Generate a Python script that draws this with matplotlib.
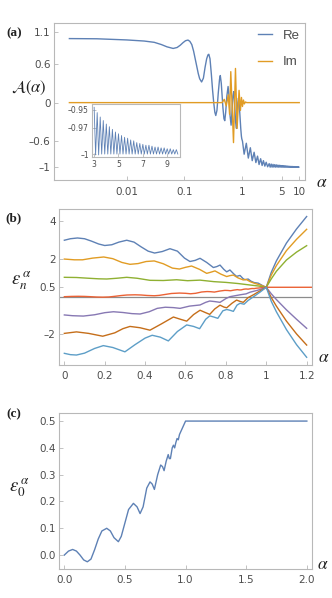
import matplotlib
matplotlib.use("Agg")
from matplotlib import pyplot as plt

# ---------- panel (a): A(alpha) on a log alpha axis ----------
re_alpha = [0.001, 0.003, 0.01, 0.02, 0.03, 0.04, 0.05, 0.064, 0.075, 0.085,
            0.095, 0.105, 0.116, 0.125, 0.135, 0.145, 0.155, 0.165, 0.175, 0.185,
            0.2, 0.215, 0.23, 0.245, 0.258, 0.267, 0.28, 0.295, 0.31, 0.325,
            0.34, 0.353, 0.37, 0.39, 0.41, 0.423, 0.44, 0.47, 0.49, 0.506,
            0.525, 0.55, 0.578, 0.6, 0.625, 0.652, 0.675, 0.7, 0.726, 0.75,
            0.78, 0.809, 0.83, 0.855, 0.877, 0.9, 0.93, 0.96, 0.985, 1.0]
re_vals = [0.993, 0.99, 0.972, 0.955, 0.935, 0.9, 0.865, 0.84, 0.855, 0.89,
           0.93, 0.96, 0.97, 0.95, 0.9, 0.8, 0.68, 0.56, 0.45, 0.37,
           0.32, 0.38, 0.55, 0.68, 0.74, 0.75, 0.68, 0.45, 0.2, 0.0,
           -0.15, -0.2, -0.12, 0.15, 0.36, 0.42, 0.3, -0.08, -0.25, -0.28,
           -0.15, 0.1, 0.25, 0.1, -0.2, -0.35, -0.15, 0.1, 0.17, 0.0,
           -0.3, -0.4, -0.2, 0.0, 0.07, 0.0, -0.2, -0.4, -0.52, -0.56]
re_tail_alpha = [1.03, 1.1, 1.2, 1.3, 1.41, 1.52, 1.64, 1.76, 1.88, 2.0,
                 2.13, 2.26, 2.38, 2.52, 2.66, 2.82]
re_tail = [-0.6, -0.8, -0.63, -0.86, -0.7, -0.9, -0.77, -0.93, -0.83, -0.96,
           -0.87, -0.975, -0.9, -0.985, -0.925, -0.995]

# inset: Re A for alpha in [3, 10]
inset_alpha = [3.0, 3.12, 3.25, 3.37, 3.5, 3.62, 3.75, 3.87, 4.0, 4.12,
               4.25, 4.37, 4.5, 4.62, 4.75, 4.87, 5.0, 5.12, 5.25, 5.37,
               5.5, 5.62, 5.75, 5.87, 6.0, 6.12, 6.25, 6.37, 6.5, 6.62,
               6.75, 6.87, 7.0, 7.12, 7.25, 7.37, 7.5, 7.62, 7.75, 7.87,
               8.0, 8.12, 8.25, 8.37, 8.5, 8.62, 8.75, 8.87, 9.0, 9.12,
               9.25, 9.37, 9.5, 9.62, 9.75, 9.87]
inset_re = [-0.947, -1.001, -0.953, -1.001, -0.958, -1.0, -0.962, -1.0, -0.966, -1.0,
            -0.969, -1.0, -0.972, -1.0, -0.975, -1.0, -0.977, -1.0, -0.979, -1.0,
            -0.981, -1.0, -0.982, -1.0, -0.984, -1.0, -0.985, -1.0, -0.987, -1.0,
            -0.988, -1.0, -0.989, -1.0, -0.990, -1.0, -0.990, -1.0, -0.991, -1.0,
            -0.992, -1.0, -0.992, -1.0, -0.993, -1.0, -0.993, -1.0, -0.994, -1.0,
            -0.994, -1.0, -0.995, -1.0, -0.995, -1.0]

im_alpha = [0.001, 0.454, 0.496, 0.537, 0.582, 0.614, 0.644, 0.718, 0.777, 0.829,
            0.897, 0.948, 0.988, 1.028, 1.07, 1.11, 1.16, 1.22, 10.0]
im_vals = [0, 0, 0.05, -0.05, 0.12, -0.18, 0.48, -0.62, 0.53, -0.4,
           0.19, -0.12, 0.08, -0.06, 0.04, -0.02, 0.01, 0, 0]

# ---------- panel (b): eps_n(alpha), n = 3 ... -3 ----------
eps3_alpha = [0, 0.03, 0.065, 0.1, 0.135, 0.17, 0.2, 0.235, 0.27, 0.309,
              0.345, 0.38, 0.415, 0.447, 0.485, 0.523, 0.56, 0.595, 0.622, 0.648,
              0.672, 0.705, 0.738, 0.755, 0.771, 0.79, 0.804, 0.82, 0.84, 0.853,
              0.87, 0.885, 0.895, 0.91, 0.925, 0.94, 0.96, 0.98, 1.0, 1.025,
              1.05, 1.1, 1.15, 1.2]
eps3 = [3.0, 3.08, 3.12, 3.08, 2.95, 2.8, 2.72, 2.76, 2.9, 3.0,
        2.9, 2.65, 2.42, 2.32, 2.4, 2.55, 2.42, 2.05, 1.87, 1.93,
        2.04, 1.82, 1.55, 1.6, 1.68, 1.45, 1.32, 1.42, 1.2, 1.08,
        1.13, 0.96, 0.9, 0.94, 0.82, 0.75, 0.72, 0.6, 0.5, 1.3,
        1.9, 2.85, 3.6, 4.26]

eps2_alpha = [0, 0.05, 0.09, 0.14, 0.195, 0.24, 0.285, 0.325, 0.365, 0.405,
              0.445, 0.49, 0.535, 0.57, 0.6, 0.63, 0.67, 0.705, 0.725, 0.746,
              0.775, 0.804, 0.82, 0.837, 0.86, 0.886, 0.9, 0.92, 0.94, 0.97,
              1.0, 1.025, 1.05, 1.1, 1.15, 1.2]
eps2 = [2.0, 1.96, 1.96, 2.05, 2.11, 2.02, 1.82, 1.72, 1.76, 1.87,
        1.9, 1.75, 1.52, 1.47, 1.56, 1.63, 1.45, 1.24, 1.3, 1.37,
        1.2, 1.07, 1.12, 1.15, 1.0, 0.89, 0.92, 0.8, 0.72, 0.62,
        0.5, 1.15, 1.65, 2.45, 3.05, 3.58]

eps1_alpha = [0, 0.06, 0.12, 0.17, 0.21, 0.26, 0.309, 0.36, 0.424, 0.49,
              0.556, 0.61, 0.672, 0.74, 0.8, 0.86, 0.92, 0.96, 1.0, 1.025,
              1.05, 1.1, 1.15, 1.2]
eps1 = [1.03, 1.02, 0.98, 0.95, 0.94, 0.98, 1.03, 0.98, 0.87, 0.86,
        0.9, 0.85, 0.88, 0.8, 0.76, 0.7, 0.62, 0.57, 0.5, 0.95,
        1.35, 1.95, 2.37, 2.71]

epsm1_alpha = [0, 0.04, 0.094, 0.15, 0.2, 0.243, 0.29, 0.335, 0.375, 0.42,
               0.46, 0.5, 0.54, 0.573, 0.62, 0.672, 0.7, 0.72, 0.745, 0.771,
               0.8, 0.82, 0.845, 0.87, 0.9, 0.92, 0.96, 1.0, 1.025, 1.05,
               1.1, 1.15, 1.2]
epsm1 = [-0.97, -1.01, -1.03, -0.96, -0.85, -0.8, -0.84, -0.9, -0.92, -0.8,
         -0.62, -0.56, -0.58, -0.62, -0.5, -0.44, -0.3, -0.23, -0.26, -0.3,
         -0.1, 0.0, 0.05, 0.1, 0.15, 0.24, 0.35, 0.5, 0.15, -0.15,
         -0.7, -1.2, -1.68]

epsm2_alpha = [0, 0.06, 0.12, 0.19, 0.25, 0.29, 0.325, 0.375, 0.424, 0.48,
               0.54, 0.575, 0.606, 0.64, 0.672, 0.7, 0.72, 0.745, 0.771, 0.79,
               0.804, 0.83, 0.853, 0.87, 0.886, 0.91, 0.936, 0.96, 1.0, 1.025,
               1.05, 1.1, 1.15, 1.2]
epsm2 = [-1.95, -1.87, -1.95, -2.1, -1.92, -1.7, -1.58, -1.65, -1.78, -1.45,
         -1.08, -1.2, -1.3, -0.95, -0.72, -0.85, -0.94, -0.65, -0.45, -0.55,
         -0.59, -0.35, -0.18, -0.25, -0.3, -0.05, 0.1, 0.25, 0.5, -0.05,
         -0.5, -1.3, -1.98, -2.57]

epsm3_alpha = [0, 0.03, 0.06, 0.1, 0.15, 0.193, 0.24, 0.3, 0.35, 0.4,
               0.435, 0.475, 0.515, 0.56, 0.606, 0.64, 0.67, 0.7, 0.72, 0.74,
               0.76, 0.785, 0.804, 0.82, 0.837, 0.855, 0.87, 0.89, 0.91, 0.94,
               0.97, 1.0, 1.025, 1.05, 1.1, 1.15, 1.2]
epsm3 = [-3.01, -3.08, -3.1, -3.0, -2.75, -2.6, -2.7, -2.93, -2.55, -2.2,
         -2.05, -2.15, -2.35, -1.85, -1.5, -1.58, -1.7, -1.2, -1.02, -1.08,
         -1.15, -0.75, -0.68, -0.72, -0.78, -0.45, -0.35, -0.4, -0.2, 0.02,
         0.25, 0.5, -0.25, -0.8, -1.75, -2.55, -3.22]

# ---------- panel (c): eps_0(alpha) (also the n = 0 curve of (b)) ----------
c_alpha = [0, 0.035, 0.069, 0.1, 0.13, 0.16, 0.19, 0.22, 0.25, 0.28,
           0.31, 0.35, 0.38, 0.41, 0.446, 0.47, 0.5, 0.53, 0.57, 0.6,
           0.625, 0.65, 0.68, 0.707, 0.725, 0.743, 0.77, 0.795, 0.81, 0.823,
           0.84, 0.857, 0.866, 0.875, 0.89, 0.9, 0.91, 0.92, 0.93, 0.94,
           0.95, 0.97, 1.0, 2.0]
c_eps0 = [0.0, 0.015, 0.021, 0.015, 0.0, -0.018, -0.025, -0.015, 0.02, 0.06,
          0.09, 0.1, 0.09, 0.065, 0.05, 0.07, 0.12, 0.17, 0.193, 0.18,
          0.155, 0.18, 0.25, 0.273, 0.265, 0.245, 0.3, 0.336, 0.33, 0.315,
          0.35, 0.375, 0.36, 0.36, 0.4, 0.41, 0.4, 0.42, 0.435, 0.43,
          0.45, 0.47, 0.5, 0.5]

BLUE, ORANGE, GREEN, RED = "#5E81B5", "#E19C24", "#8FB032", "#EB6235"
PURPLE, DKORANGE, LTBLUE = "#8778B3", "#C56E1A", "#5D9EC7"
FRAME = "#b8b8b8"
TXT = "#4d4d4d"
MINUS = "\u2013"
LW = 1.0

plt.rcParams["font.family"] = ["DejaVu Sans"]
plt.rcParams["mathtext.fontset"] = "stix"

W, H = 332, 598
fig = plt.figure(figsize=(W / 100, H / 100), dpi=100)


def box(l, t, r, b):
    return [l / W, 1 - b / H, (r - l) / W, (b - t) / H]


def style(ax, size=7.5, padx=4.5, pady=2.5):
    for s in ax.spines.values():
        s.set_color(FRAME)
        s.set_linewidth(0.8)
    ax.tick_params(direction="in", length=3, width=0.6, color=FRAME,
                   labelcolor=TXT, labelsize=size)
    ax.tick_params(axis="x", pad=padx)
    ax.tick_params(axis="y", pad=pady)
    ax.minorticks_off()


def panel_label(y, s):
    fig.text(14 / W, 1 - y / H, s, family="Liberation Serif", weight="bold",
             fontsize=9.5, ha="center", va="center", color="#222222")


def alpha_label(x, y):
    fig.text(x / W, 1 - y / H, r"$\alpha$", fontsize=12.5, ha="center",
             va="center", color="#222222")


# (a)
ax_a = fig.add_axes(box(54, 23.3, 305, 180))
ax_a.plot(re_alpha + re_tail_alpha + inset_alpha, re_vals + re_tail + inset_re,
          color=BLUE, lw=LW, label="Re")
ax_a.plot(im_alpha, im_vals, color=ORANGE, lw=LW, label="Im")
ax_a.set_xscale("log")
ax_a.set_xlim(0.00054, 12.6)
ax_a.set_ylim(-1.2, 1.23)
ax_a.set_xticks([0.01, 0.1, 1, 5, 10])
ax_a.set_xticklabels(["0.01", "0.1", "1", "5", "10"])
ax_a.set_yticks([1.1, 0.6, 0, -0.6, -1])
ax_a.set_yticklabels(["1.1", "0.6", "0", MINUS + "0.6", MINUS + "1"])
style(ax_a, size=7.5, padx=5)
leg = ax_a.legend(loc="upper right", bbox_to_anchor=(0.99, 0.975), frameon=False,
                  prop={"family": "Liberation Sans", "size": 9.5},
                  handlelength=1.1, handletextpad=0.8,
                  labelspacing=1.05, borderaxespad=0, borderpad=0.2)
for t in leg.get_texts():
    t.set_color(TXT)

ins = fig.add_axes(box(91.7, 104.3, 180, 156.7))
ins.plot(inset_alpha, inset_re, color=BLUE, lw=0.6)
ins.set_xlim(2.8, 10.05)
ins.set_ylim(-1.003, -0.9436)
ins.set_xticks([3, 5, 7, 9])
ins.set_yticks([-0.95, -0.97, -1])
ins.set_yticklabels([MINUS + "0.95", MINUS + "0.97", MINUS + "1"])
style(ins, size=5.5, padx=2.5, pady=2)

fig.text(29 / W, 1 - 88 / H, r"$\mathcal{A}(\alpha)$", fontsize=12,
         ha="center", va="center", color="#222222")
alpha_label(322, 182)
panel_label(33, "(a)")

# (b)
ax_b = fig.add_axes(box(59.3, 209, 311.7, 365))
ax_b.axhline(0, color="#8c8c8c", lw=0.9, zorder=1)
curves_b = [(eps3_alpha, eps3, BLUE), (eps2_alpha, eps2, ORANGE),
            (eps1_alpha, eps1, GREEN), (c_alpha, c_eps0, RED),
            (epsm1_alpha, epsm1, PURPLE), (epsm2_alpha, epsm2, DKORANGE),
            (epsm3_alpha, epsm3, LTBLUE)]
for xs, ys, col in curves_b:
    ax_b.plot(xs, ys, color=col, lw=LW, zorder=2)
ax_b.set_xlim(-0.025, 1.225)
ax_b.set_ylim(-3.63, 4.66)
ax_b.set_xticks([0, 0.2, 0.4, 0.6, 0.8, 1.0, 1.2])
ax_b.set_xticklabels(["0", "0.2", "0.4", "0.6", "0.8", "1", "1.2"])
ax_b.set_yticks([4, 2, 0.5, -2])
ax_b.set_yticklabels(["4", "2", "0.5", MINUS + "2"])
style(ax_b, size=7.5)
fig.text(21 / W, 1 - 281 / H, r"$\varepsilon_n^{\,\alpha}$", fontsize=13.5,
         ha="center", va="center", color="#222222")
alpha_label(324, 357)
panel_label(218, "(b)")

# (c)
ax_c = fig.add_axes(box(59.3, 413.3, 311.7, 569.3))
ax_c.plot(c_alpha, c_eps0, color=BLUE, lw=LW)
ax_c.set_xlim(-0.041, 2.04)
ax_c.set_ylim(-0.053, 0.529)
ax_c.set_xticks([0, 0.5, 1.0, 1.5, 2.0])
ax_c.set_xticklabels(["0.0", "0.5", "1.0", "1.5", "2.0"])
ax_c.set_yticks([0, 0.1, 0.2, 0.3, 0.4, 0.5])
ax_c.set_yticklabels(["0.0", "0.1", "0.2", "0.3", "0.4", "0.5"])
style(ax_c, size=7.5, padx=4)
fig.text(19 / W, 1 - 488 / H, r"$\varepsilon_0^{\,\alpha}$", fontsize=13.5,
         ha="center", va="center", color="#222222")
alpha_label(323, 564)
panel_label(414, "(c)")

fig.savefig("out.png", dpi=100, facecolor="white")
